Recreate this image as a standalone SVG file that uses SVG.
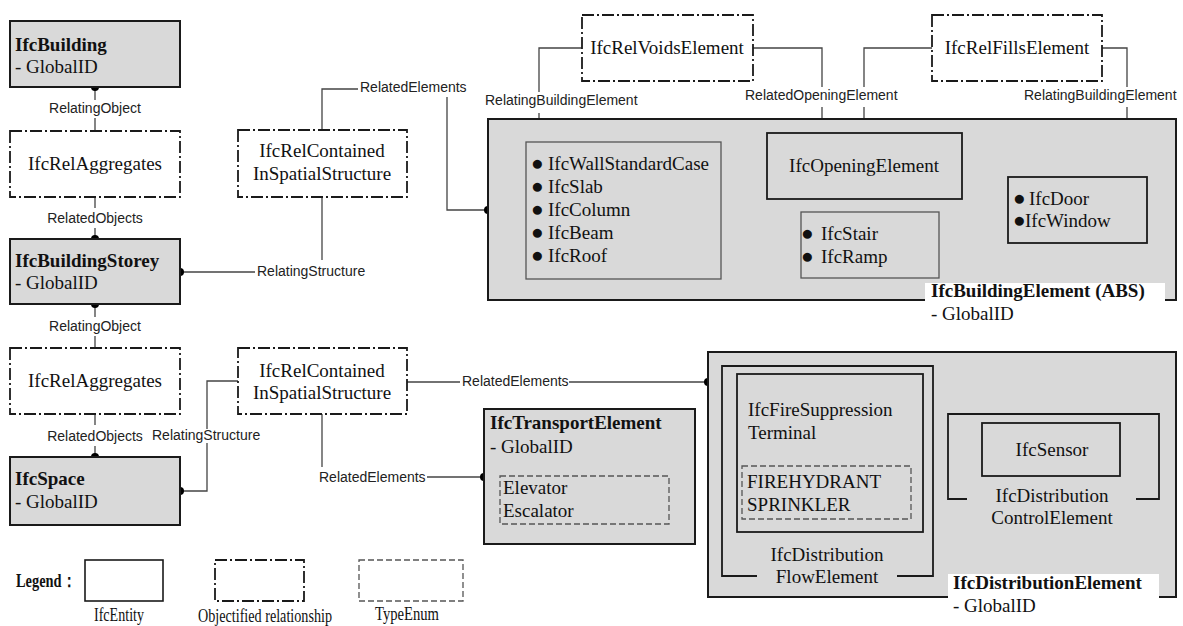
<svg xmlns="http://www.w3.org/2000/svg" width="1183" height="626" viewBox="0 0 1183 626">
<style>
.ent{fill:#d9d9d9;stroke:#1a1a1a;stroke-width:2}
.sub{fill:#d9d9d9;stroke:#555;stroke-width:1.3}
.sub2{fill:#d9d9d9;stroke:#1a1a1a;stroke-width:1.8}
.rel{fill:#fff;stroke:#1a1a1a;stroke-width:1.8;stroke-dasharray:12,3,2,3}
.enum{fill:none;stroke:#555;stroke-width:1.3;stroke-dasharray:6,3}
.brk{fill:none;stroke:#1a1a1a;stroke-width:1.8}
.t{font-family:"Liberation Serif","Times New Roman",serif;font-size:19px;fill:#111}
.b{font-weight:bold}
.c{text-anchor:middle}
.lb{font-family:"Liberation Sans",Arial,sans-serif;font-size:14px;fill:#222}
.bul{font-size:21px}
.cn{fill:none;stroke:#444;stroke-width:1.3}
.dot{fill:#000}
</style>
<rect width="1183" height="626" fill="#fff"/>

<g id="connectors">
  <path class="cn" d="M95,87 V100 M95,118 V131"/>
  <path class="cn" d="M95,197 V208 M95,228 V239"/>
  <path class="cn" d="M95,304 V317 M95,336 V348"/>
  <path class="cn" d="M95,414 V425 M95,446 V457"/>
  <path class="cn" d="M180,272 H255"/>
  <path class="cn" d="M322,197 V260"/>
  <path class="cn" d="M322,130 V89 H358"/>
  <path class="cn" d="M447,97 V210 H488"/>
  <path class="cn" d="M180,491 H207 V443 M207,429 V381 H238"/>
  <path class="cn" d="M407,382 H460 M569,382 H708"/>
  <path class="cn" d="M322,414 V467"/>
  <path class="cn" d="M427,477 H484"/>
  <path class="cn" d="M582,48 H539 V92 M539,113 V142"/>
  <path class="cn" d="M753,48 H822 V87 M822,107 V133"/>
  <path class="cn" d="M932,48 H864 V87 M864,107 V133"/>
  <path class="cn" d="M1102,48 H1127 V87 M1127,107 V177"/>
  <circle class="dot" cx="95" cy="87" r="4"/>
  <circle class="dot" cx="95" cy="239" r="4"/>
  <circle class="dot" cx="95" cy="304" r="4"/>
  <circle class="dot" cx="95" cy="457" r="4"/>
  <circle class="dot" cx="180" cy="272" r="4"/>
  <circle class="dot" cx="180" cy="491" r="4"/>
  <circle class="dot" cx="488" cy="210" r="4"/>
  <circle class="dot" cx="708" cy="382" r="4"/>
  <circle class="dot" cx="484" cy="477" r="4"/>
  <circle class="dot" cx="539" cy="142" r="4"/>
  <circle class="dot" cx="822" cy="133" r="4"/>
  <circle class="dot" cx="864" cy="133" r="4"/>
  <circle class="dot" cx="1127" cy="177" r="4"/>
  <text class="lb c" x="95" y="113">RelatingObject</text>
  <text class="lb c" x="95" y="223">RelatedObjects</text>
  <text class="lb c" x="95" y="331">RelatingObject</text>
  <text class="lb c" x="95" y="441">RelatedObjects</text>
  <text class="lb" x="257" y="276">RelatingStructure</text>
  <text class="lb" x="152" y="440">RelatingStructure</text>
  <text class="lb" x="360" y="92">RelatedElements</text>
  <text class="lb" x="462" y="386">RelatedElements</text>
  <text class="lb" x="319" y="482">RelatedElements</text>
  <text class="lb" x="485" y="105">RelatingBuildingElement</text>
  <text class="lb" x="745" y="100">RelatedOpeningElement</text>
  <text class="lb" x="1024" y="100">RelatingBuildingElement</text>
</g>

<g id="IfcBuilding">
  <rect class="ent" x="10" y="21" width="170" height="66"/>
  <text class="t b" x="15" y="51">IfcBuilding</text>
  <text class="t" x="15" y="73">- GlobalID</text>
</g>
<g id="IfcRelAggregates1">
  <rect class="rel" x="10" y="131" width="170" height="66"/>
  <text class="t c" x="95" y="170">IfcRelAggregates</text>
</g>
<g id="IfcBuildingStorey">
  <rect class="ent" x="10" y="239" width="170" height="65"/>
  <text class="t b" x="15" y="267">IfcBuildingStorey</text>
  <text class="t" x="15" y="289">- GlobalID</text>
</g>
<g id="IfcRelAggregates2">
  <rect class="rel" x="10" y="348" width="170" height="66"/>
  <text class="t c" x="95" y="387">IfcRelAggregates</text>
</g>
<g id="IfcSpace">
  <rect class="ent" x="10" y="457" width="170" height="68"/>
  <text class="t b" x="15" y="485">IfcSpace</text>
  <text class="t" x="15" y="508">- GlobalID</text>
</g>
<g id="IfcRelContained1">
  <rect class="rel" x="238" y="130" width="169" height="67"/>
  <text class="t c" x="322" y="157">IfcRelContained</text>
  <text class="t c" x="322" y="180">InSpatialStructure</text>
</g>
<g id="IfcRelContained2">
  <rect class="rel" x="238" y="348" width="169" height="66"/>
  <text class="t c" x="322" y="377">IfcRelContained</text>
  <text class="t c" x="322" y="399">InSpatialStructure</text>
</g>
<g id="IfcRelVoidsElement">
  <rect class="rel" x="582" y="15" width="171" height="66"/>
  <text class="t c" x="667" y="54">IfcRelVoidsElement</text>
</g>
<g id="IfcRelFillsElement">
  <rect class="rel" x="932" y="15" width="170" height="66"/>
  <text class="t c" x="1017" y="54">IfcRelFillsElement</text>
</g>

<g id="IfcBuildingElement">
  <rect class="ent" x="488" y="119" width="688" height="181"/>
  <rect x="925" y="283" width="240" height="47" fill="#fff"/>
  <text class="t b" x="931" y="297">IfcBuildingElement (ABS)</text>
  <text class="t" x="931" y="320">- GlobalID</text>
</g>
<g id="WallGroup">
  <rect class="sub" x="526" y="142" width="195" height="137"/>
  <text class="t" x="531" y="170"><tspan class="bul">● </tspan><tspan x="548">IfcWallStandardCase</tspan></text>
  <text class="t" x="531" y="193"><tspan class="bul">● </tspan><tspan x="548">IfcSlab</tspan></text>
  <text class="t" x="531" y="216"><tspan class="bul">● </tspan><tspan x="548">IfcColumn</tspan></text>
  <text class="t" x="531" y="239"><tspan class="bul">● </tspan><tspan x="548">IfcBeam</tspan></text>
  <text class="t" x="531" y="262"><tspan class="bul">● </tspan><tspan x="548">IfcRoof</tspan></text>
</g>
<g id="IfcOpeningElement">
  <rect class="sub2" x="767" y="133" width="195" height="66"/>
  <text class="t c" x="864" y="172">IfcOpeningElement</text>
</g>
<g id="StairGroup">
  <rect class="sub" x="801" y="212" width="138" height="66"/>
  <text class="t" x="801" y="240"><tspan class="bul">● </tspan><tspan x="821">IfcStair</tspan></text>
  <text class="t" x="801" y="263"><tspan class="bul">● </tspan><tspan x="821">IfcRamp</tspan></text>
</g>
<g id="DoorGroup">
  <rect class="sub2" x="1008" y="177" width="139" height="66"/>
  <text class="t" x="1013" y="205"><tspan class="bul">● </tspan><tspan x="1029">IfcDoor</tspan></text>
  <text class="t" x="1013" y="227"><tspan class="bul">●</tspan><tspan x="1025">IfcWindow</tspan></text>
</g>

<g id="IfcTransportElement">
  <rect class="ent" x="484" y="409" width="211" height="135"/>
  <text class="t b" x="490" y="429">IfcTransportElement</text>
  <text class="t" x="490" y="453">- GlobalID</text>
  <rect class="enum" x="500" y="476" width="169" height="48"/>
  <text class="t" x="503" y="494">Elevator</text>
  <text class="t" x="503" y="517">Escalator</text>
</g>

<g id="IfcDistributionElement">
  <rect class="ent" x="708" y="352" width="468" height="245"/>
  <rect x="948" y="574" width="211" height="48" fill="#fff"/>
  <text class="t b" x="953" y="589">IfcDistributionElement</text>
  <text class="t" x="953" y="612">- GlobalID</text>
</g>
<g id="IfcDistributionFlowElement">
  <path class="brk" d="M757,576 H722 V366 H933 V576 H897"/>
  <text class="t c" x="827" y="561">IfcDistribution</text>
  <text class="t c" x="827" y="583">FlowElement</text>
</g>
<g id="IfcFireSuppressionTerminal">
  <rect class="sub2" x="737" y="374" width="186" height="158"/>
  <text class="t" x="748" y="416">IfcFireSuppression</text>
  <text class="t" x="748" y="439">Terminal</text>
  <rect class="enum" x="742" y="466" width="169" height="53"/>
  <text class="t" x="747" y="488">FIREHYDRANT</text>
  <text class="t" x="747" y="511">SPRINKLER</text>
</g>
<g id="IfcDistributionControlElement">
  <path class="brk" d="M967,499 H948 V414 H1159 V499 H1136"/>
  <text class="t c" x="1052" y="502">IfcDistribution</text>
  <text class="t c" x="1052" y="524">ControlElement</text>
</g>
<g id="IfcSensor">
  <rect class="sub2" x="982" y="423" width="138" height="53"/>
  <text class="t c" x="1052" y="456">IfcSensor</text>
</g>

<g id="legend">
  <text class="t b" x="16" y="587" font-size="17" textLength="60" lengthAdjust="spacingAndGlyphs">Legend：</text>
  <rect x="85" y="560" width="78" height="41" fill="#fff" stroke="#1a1a1a" stroke-width="1.6"/>
  <rect class="rel" x="215" y="560" width="89" height="41"/>
  <rect class="enum" x="359" y="560" width="104" height="41"/>
  <text class="t" x="94" y="621" font-size="18" textLength="50" lengthAdjust="spacingAndGlyphs">IfcEntity</text>
  <text class="t" x="198" y="622" font-size="18" textLength="134" lengthAdjust="spacingAndGlyphs">Objectified relationship</text>
  <text class="t" x="375" y="620" font-size="18" textLength="64" lengthAdjust="spacingAndGlyphs">TypeEnum</text>
</g>
</svg>
